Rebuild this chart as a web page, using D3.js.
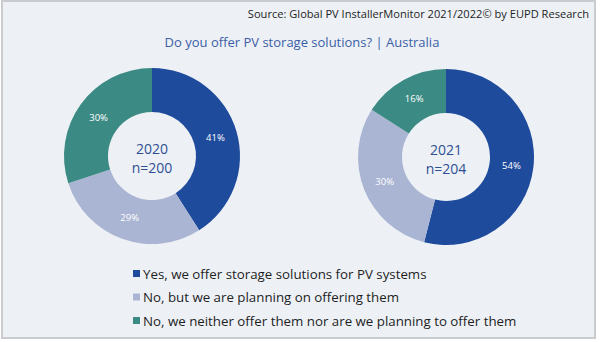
<!DOCTYPE html>
<html>
<head>
<meta charset="utf-8">
<script src="https://cdn.jsdelivr.net/npm/d3@7"></script>
<style>
  html, body { margin: 0; padding: 0; background: #ffffff; }
  svg { display: block; }
</style>
</head>
<body>
<svg id="chart" width="600" height="342"></svg>
<script>
// Survey answers, shared by both donuts and the legend
const categories = [
  "Yes, we offer storage solutions for PV systems",
  "No, but we are planning on offering them",
  "No, we neither offer them nor are we planning to offer them"
];
const years = ["2020", "2021"];
const sampleSizes = [200, 204];
const values2020 = [41, 29, 30];
const values2021 = [54, 30, 16];

const colors = ["#1f4b9c", "#aab5d3", "#3b8a83"];
const svg = d3.select("#chart");

// panel background and frame
svg.append("rect").attr("x", 2).attr("y", 1).attr("width", 593).attr("height", 337)
  .attr("fill", "#edf1f6").attr("stroke", "#c9cbcf").attr("stroke-width", 2);

const font = "'Open Sans', 'Noto Sans', sans-serif";

svg.append("text").attr("x", 589).attr("y", 18).attr("text-anchor", "end")
  .attr("font-family", font).attr("font-size", 11.1).attr("fill", "#1e1e1e")
  .text("Source: Global PV InstallerMonitor 2021/2022© by EUPD Research");

svg.append("text").attr("x", 302).attr("y", 47).attr("text-anchor", "middle")
  .attr("font-family", font).attr("font-size", 13).attr("fill", "#3b5ea6")
  .text("Do you offer PV storage solutions? | Australia");

const color = d3.scaleOrdinal().domain(categories).range(colors);
const pie = d3.pie().sort(null).value(d => d.value);
const outerR = 88, innerR = 44;
const arc = d3.arc().innerRadius(innerR).outerRadius(outerR);
const labelArc = d3.arc().innerRadius(66).outerRadius(66);

const donuts = [
  { year: years[0], n: sampleSizes[0], values: values2020, cx: 152, cy: 156 },
  { year: years[1], n: sampleSizes[1], values: values2021, cx: 446, cy: 157 }
];

donuts.forEach(dn => {
  const g = svg.append("g").attr("transform", `translate(${dn.cx},${dn.cy})`);
  const data = pie(categories.map((c, i) => ({ cat: c, value: dn.values[i] })));
  g.selectAll("path").data(data).join("path")
    .attr("d", arc).attr("fill", d => color(d.data.cat));
  g.selectAll("text.pct").data(data).join("text").attr("class", "pct")
    .attr("transform", d => `translate(${labelArc.centroid(d)})`)
    .attr("text-anchor", "middle").attr("dy", "0.35em")
    .attr("font-family", font).attr("font-size", 9.5).attr("fill", "#ffffff")
    .text(d => d.data.value + "%");
  // centre caption: survey year and sample size
  g.append("text").attr("text-anchor", "middle").attr("y", -2)
    .attr("font-family", font).attr("font-size", 14).attr("fill", "#2f4f93")
    .text(dn.year);
  g.append("text").attr("text-anchor", "middle").attr("y", 17)
    .attr("font-family", font).attr("font-size", 14).attr("fill", "#2f4f93")
    .text("n=" + dn.n);
});

// legend
const legendY = d3.scalePoint().domain(categories).range([274, 321]);
const lg = svg.append("g");
categories.forEach(c => {
  lg.append("rect").attr("x", 133).attr("y", legendY(c) - 4).attr("width", 7).attr("height", 7)
    .attr("fill", color(c));
  lg.append("text").attr("x", 143).attr("y", legendY(c)).attr("dy", "0.35em")
    .attr("font-family", font).attr("font-size", 13.3).attr("fill", "#1e1e1e")
    .text(c);
});
</script>
</body>
</html>
